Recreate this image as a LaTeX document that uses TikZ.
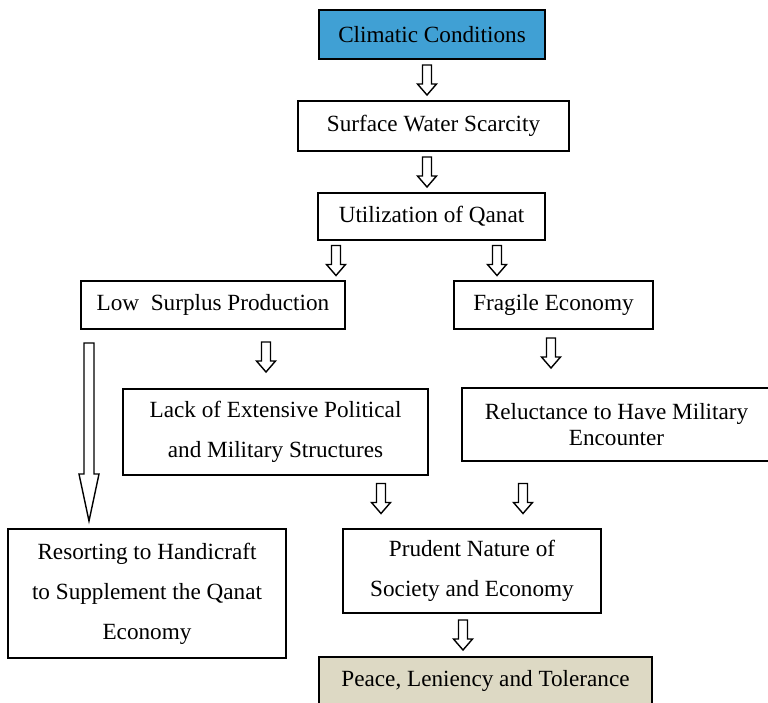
\documentclass[tikz,border=0pt]{standalone}
\usepackage{fontspec}
\setmainfont{Liberation Serif}
\usepackage{tikz}
\usetikzlibrary{calc}
\usepackage{xcolor}

\definecolor{skyfill}{RGB}{64,160,212}
\definecolor{tanfill}{RGB}{221,217,196}

\newcommand{\boxfont}{\fontsize{13.2}{22.7}\selectfont}
\newcommand{\tightfont}{\fontsize{13.2}{14.8}\selectfont}

\tikzset{
    stage/.style={draw, line width=1.1pt, align=center, inner sep=0pt, font=\boxfont},
    size/.style 2 args={minimum width=#1*0.02cm, minimum height=#2*0.02cm},
    flowline/.style={draw, line width=0.8pt, line join=miter, fill=white},
}

% hollow down arrow at x=#2, in the gap between #3 and #4 (shifted by #1)
\newcommand{\flowarrow}[4][0]{%
    \coordinate (fa) at ($(#2,0 |- #3.south)!.5!(#2,0 |- #4.north)+(0,#1)$);
    \draw[flowline] ($(fa)+(-4.5,-15)$) -- ($(fa)+(-4.5,4)$) -- ($(fa)+(-9.5,4)$)
        -- ($(fa)+(0,15)$) -- ($(fa)+(9.5,4)$) -- ($(fa)+(4.5,4)$)
        -- ($(fa)+(4.5,-15)$) -- cycle;}

\begin{document}
\begin{tikzpicture}[x=0.02cm, y=-0.02cm]
    \useasboundingbox (0,0) rectangle (768,703);
    \clip (0,0) rectangle (768,703);

    % Top of the chain
    \node[stage, fill=skyfill, size={226}{49}] (cc) at (432,34.5)
        {Climatic Conditions};
    \node[stage, size={271}{50}] (sws) at (433.5,126)
        {Surface Water Scarcity};
    \node[stage, size={227}{47}] (uq) at (431.5,216.5)
        {Utilization of Qanat};

    % Two branches
    \node[stage, size={264}{48}] (lsp) at (213,305)
        {Low~ Surplus Production};
    \node[stage, size={199}{48}] (fe) at (553.5,305)
        {Fragile Economy};
    \node[stage, size={305}{86}] (lack) at (275.5,432)
        {Lack of Extensive Political\\and Military Structures};
    \node[stage, font=\tightfont, size={309}{73}] (rel) at (616.5,424.5)
        {Reluctance to Have Military\\Encounter};

    % Outcomes
    \node[stage, size={278}{129}] (res) at (147,593.5)
        {Resorting to Handicraft\\to Supplement the Qanat\\Economy};
    \node[stage, size={258}{84}] (pn) at (472,571)
        {Prudent Nature of\\Society and Economy};
    \node[stage, fill=tanfill, size={333}{48}] (plt) at (485.5,681)
        {Peace, Leniency and Tolerance};

    % Short arrows
    \flowarrow{427}{cc}{sws}
    \flowarrow{427}{sws}{uq}
    \flowarrow{336}{uq}{lsp}
    \flowarrow{497}{uq}{fe}
    \flowarrow[-2]{266}{lsp}{lack}
    \flowarrow[-5.5]{551}{fe}{rel}
    \flowarrow[-3.5]{381}{lack}{pn}
    \flowarrow[3.5]{523}{rel}{pn}
    \flowarrow{463}{pn}{plt}

    % Long arrow down to handicraft
    \coordinate (lt) at ($(89,0 |- lsp.south)+(0,13)$);
    \coordinate (lb) at ($(89,0 |- res.north)+(0,-7)$);
    \draw[flowline] ($(lt)+(-5,0)$) -- ($(lb)+(-5,-47)$) -- ($(lb)+(-10,-47)$) -- (lb)
        -- ($(lb)+(10,-47)$) -- ($(lb)+(5,-47)$) -- ($(lt)+(5,0)$) -- cycle;
\end{tikzpicture}
\end{document}
